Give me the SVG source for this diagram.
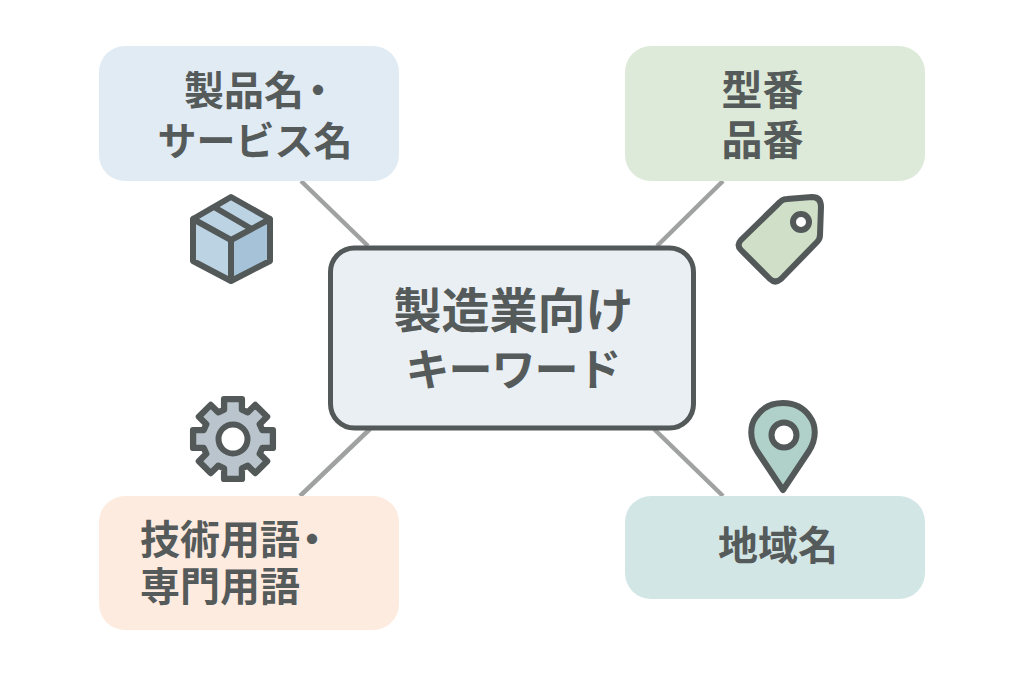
<svg xmlns="http://www.w3.org/2000/svg" width="1024" height="683" viewBox="0 0 1024 683">
<style>
.t{font-family:"Noto Sans CJK JP","Noto Sans CJK SC",sans-serif;font-weight:700;fill:#555a5a;font-size:40px}
.m{text-anchor:middle}
.s{stroke:#535858;stroke-width:6;stroke-linejoin:round;stroke-linecap:round}
.c{stroke:#a0a2a2;stroke-width:4.5;fill:none}
</style>
<rect width="1024" height="683" fill="#ffffff"/>
<g id="connectors">
<line class="c" x1="301" y1="181" x2="368" y2="246"/>
<line class="c" x1="723" y1="181" x2="657" y2="246"/>
<line class="c" x1="370" y1="429" x2="300" y2="496"/>
<line class="c" x1="654" y1="429" x2="723" y2="496"/>
</g>
<g id="node-center">
<rect x="330.500" y="248" width="363" height="180" rx="24" fill="#e9eff3" stroke="#535858" stroke-width="5"/>
<text class="t m" x="513.500" y="328" style="font-size:48px">製造業向け</text>
<text class="t m" x="513" y="386" style="font-size:44px;letter-spacing:-1px">キーワード</text>
</g>
<g id="node-product">
<rect x="99" y="46" width="300" height="135" rx="26" fill="#e1ebf4"/>
<text class="t" x="184" y="105">製品名<tspan dx="-6">・</tspan></text>
<text class="t m" x="255" y="155" style="font-size:39px">サービス名</text>
</g>
<g id="node-model">
<rect x="625" y="46" width="300" height="135" rx="26" fill="#deead9"/>
<text class="t m" x="762.500" y="105" style="font-size:41px">型番</text>
<text class="t m" x="762.500" y="155" style="font-size:41px">品番</text>
</g>
<g id="node-tech">
<rect x="99" y="496" width="300" height="134" rx="26" fill="#fdebe0"/>
<text class="t" x="140" y="554">技術用語<tspan dx="-8">・</tspan></text>
<text class="t" x="140" y="601">専門用語</text>
</g>
<g id="node-region">
<rect x="625" y="496" width="300" height="103" rx="26" fill="#d3e6e6"/>
<text class="t m" x="778" y="560">地域名</text>
</g>
<g id="icon-box">
<path d="M231 197L270 219L231 240L193 219Z" fill="#bcd3e4"/>
<path d="M193 219L231 240V281L193 261Z" fill="#bcd3e4"/>
<path d="M270 219V261L231 281V240Z" fill="#a5c2d8"/>
<path class="s" fill="none" d="M231 197L270 219V261L231 281L193 261V219ZM193 219L231 240L270 219M231 240V281M214 207L250 228"/>
</g>
<g id="icon-tag">
<path class="s" fill="#d0dfc8" d="M780 202Q783 199 787 199L812 197Q821 197 821 207L820 235Q820 239 817 242L781 279Q775 284 770 279L741 250Q736 245 741 240Z"/>
<circle class="s" cx="801" cy="222" r="8" fill="#ffffff"/>
</g>
<g id="icon-gear">
<path class="s" fill="#b9c4cc" transform="translate(233 439) scale(1.05)" d="M27.900-8.500L38-8.500V8.500L27.900 8.500L25.400 14.100L32.500 21.200L21.200 32.500L14.100 25.400L8.500 27.900V38H-8.500V27.900L-14.100 25.400L-21.200 32.500L-32.500 21.200L-25.400 14.100L-27.900 8.500H-38V-8.500H-27.900L-25.400-14.100L-32.500-21.200L-21.200-32.500L-14.100-25.400L-8.500-27.900V-38H8.500V-27.900L14.100-25.400L21.200-32.500L32.500-21.200L25.400-14.100Z"/>
<circle class="s" cx="233" cy="439" r="14.500" fill="#ffffff"/>
</g>
<g id="icon-pin">
<path class="s" fill="#b0d0ca" d="M783 490L757 451C749 438 750 425 756 417C762 408 772 403 783 403C794 403 804 408 810 417C816 425 817 438 809 451Z"/>
<circle class="s" cx="784" cy="435" r="12.500" fill="#ffffff"/>
</g>
</svg>
